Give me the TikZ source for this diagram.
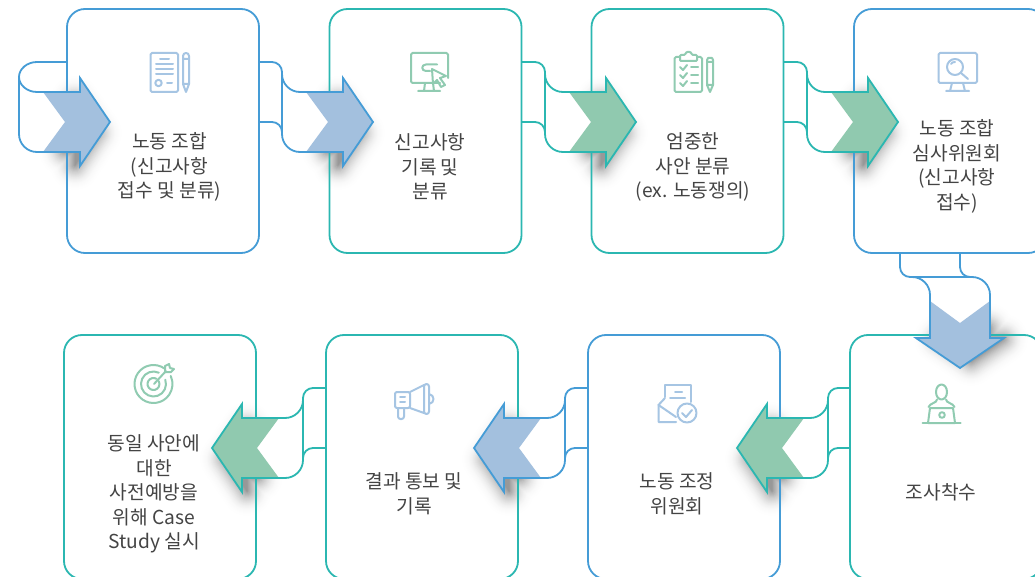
\documentclass[tikz,border=0pt]{standalone}
\usepackage{fontspec}
\setmainfont{Noto Sans CJK KR}
\usetikzlibrary{calc}
\definecolor{lblue}{HTML}{459CD6}
\definecolor{lteal}{HTML}{2BB7B1}
\definecolor{fblue}{HTML}{A3C0DE}
\definecolor{fgreen}{HTML}{90C9AF}
\definecolor{iblue}{HTML}{A6C5E3}
\definecolor{igreen}{HTML}{90CBB1}
\definecolor{txt}{HTML}{444444}
\tikzset{
  boxn/.style={rectangle,rounded corners=18pt,minimum width=192pt,minimum height=244pt,line width=1.8pt,outer sep=0pt,inner sep=0pt},
  label text/.style={align=center,text=txt,font=\fontsize{19.2}{24.6}\selectfont,inner sep=0pt},
  icon/.style={line width=2pt,line cap=round,line join=round},
  flowline/.style={line width=1.8pt,line join=miter},
}
% shapes in local coordinates: tip at origin, arrow pointing to +x
\newcommand{\chevshape}{(-45,0) -- (-67,-30) -- (-30,-30) -- (-30,-44) -- (0,0) -- (-30,44) -- (-30,30) -- (-67,30) -- cycle}
% #1 transform, #2 offset
\newcommand{\flowshadow}[2]{%
\begin{scope}[#1,shift={(#2)}]
  \foreach \i in {0,...,24}{%
    \pgfmathsetmacro{\wdt}{2*(24-\i)+0.5}
    \pgfmathsetmacro{\pc}{40*(\i/24)*(\i/24)+0.4}
    \draw[draw=black!\pc,fill=black!\pc,line width=\wdt pt,line join=round]
      (-43,-16) -- (-32,-16) -- (-32,-32) -- (-10,0) -- (-32,32) -- (-32,18) -- (-43,18) -- cycle;}
\end{scope}}
% #1 transform, #2 first start, #3 second start, #4 line, #5 fill
\newcommand{\flow}[5]{%
\begin{scope}[#1]
  \coordinate (s1) at (-114,-60);
  \coordinate (s2) at (-114,0);
  \fill[white] (-73,-30) -- (-30,-30) -- (-30,30) -- (-73,30) .. controls (-83,30) and (-91,22) .. (-91,12) -- (-91,-48) .. controls (-91,-38) and (-83,-30) .. (-73,-30) -- cycle;
  \fill[white] (-111.5,-60) -- (-101,-60) .. controls (-95.5,-60) and (-91,-55.5) .. (-91,-50) -- (-91,10) .. controls (-91,4.5) and (-95.5,0) .. (-101,0) -- (-111.5,0) -- cycle;
  \fill[#5] \chevshape;
  \draw[#4,flowline]
    (#2) -- (-101,-60) .. controls (-95.5,-60) and (-91,-55.5) .. (-91,-50) -- (-91,-48)
    .. controls (-91,-38) and (-83,-30) .. (-73,-30) -- (-30,-30) -- (-30,-44) -- (0,0) -- (-30,44) -- (-30,30) -- (-73,30)
    .. controls (-83,30) and (-91,22) .. (-91,12) -- (-91,10)
    .. controls (-91,4.5) and (-95.5,0) .. (-101,0) -- (#3);
  \draw[#4,flowline] (-91,-50) -- (-91,12);
\end{scope}}
\begin{document}
\begin{tikzpicture}[x=1pt,y=-1pt]
\path[use as bounding box,clip] (0,0) rectangle (1035,577);
\fill[white] (0,0) rectangle (1035,577);
% shadows
\flowshadow{shift={(110,122)}}{-3,11}
\flowshadow{shift={(373,122)}}{-3,11}
\flowshadow{shift={(636,122)}}{-3,11}
\flowshadow{shift={(898,122)}}{-3,11}
\flowshadow{shift={(960,368)},cm={0,-1,-1,0,(0,0)}}{3,11}
\flowshadow{shift={(737,448)},xscale=-1}{-3,11}
\flowshadow{shift={(474,448)},xscale=-1}{-3,11}
\flowshadow{shift={(212,448)},xscale=-1}{-3,11}
% boxes
\node[boxn,draw=lblue] (b1) at (163,131) {};
\node[boxn,draw=lteal] (b2) at (425.5,131) {};
\node[boxn,draw=lteal] (b3) at (687.5,131) {};
\node[boxn,draw=lblue] (b4) at (950,131) {};
\node[boxn,draw=lteal] (b5) at (946,457) {};
\node[boxn,draw=lblue] (b6) at (684,457) {};
\node[boxn,draw=lteal] (b7) at (422,457) {};
\node[boxn,draw=lteal] (b8) at (160,457) {};
% entry arrow
\begin{scope}[shift={(110,122)}]
  \coordinate (e1) at (-43,-60);
  \fill[white] (-73,-30) -- (-30,-30) -- (-30,30) -- (-73,30) .. controls (-83,30) and (-91,22) .. (-91,12) -- (-91,-45) .. controls (-91,-37) and (-83,-30) .. (-73,-30) -- cycle;
  \fill[fblue] \chevshape;
  \draw[lblue,flowline]
    (b1.west |- e1) -- (-73,-60) .. controls (-83,-60) and (-91,-53) .. (-91,-45)
    .. controls (-91,-37) and (-83,-30) .. (-73,-30) -- (-30,-30) -- (-30,-44) -- (0,0) -- (-30,44) -- (-30,30) -- (-73,30)
    .. controls (-83,30) and (-91,22) .. (-91,12) -- (-91,-45);
\end{scope}
% flows
\flow{shift={(373,122)}}{b1.east |- s1}{b1.east |- s2}{lblue}{fblue}
\flow{shift={(636,122)}}{b2.east |- s1}{b2.east |- s2}{lteal}{fgreen}
\flow{shift={(898,122)}}{b3.east |- s1}{b3.east |- s2}{lteal}{fgreen}
\flow{shift={(960,368)},cm={0,-1,-1,0,(0,0)}}{b4.south |- s1}{b4.south |- s2}{lblue}{fblue}
\flow{shift={(737,448)},xscale=-1}{b5.west |- s1}{b5.west |- s2}{lteal}{fgreen}
\flow{shift={(474,448)},xscale=-1}{b6.west |- s1}{b6.west |- s2}{lblue}{fblue}
\flow{shift={(212,448)},xscale=-1}{b7.west |- s1}{b7.west |- s2}{lteal}{fgreen}
% texts
\node[label text] (t1) at (169.5,167) {노동 조합\\(신고사항\\접수 및 분류)};
\node[label text] (t2) at (430,167) {신고사항\\기록 및\\분류};
\node[label text] (t3) at (693,167) {엄중한\\사안 분류\\(ex. 노동쟁의)};
\node[label text] (t4) at (957,166.5) {노동 조합\\심사위원회\\(신고사항\\접수)};
\node[label text] (t5) at (941,492) {조사착수};
\node[label text] (t6) at (677,494) {노동 조정\\위원회};
\node[label text] (t7) at (414,494) {결과 통보 및\\기록};
\node[label text] (t8) at (154,494) {동일 사안에\\대한\\사전예방을\\위해 Case\\Study 실시};
% icon 1: document and pen
\begin{scope}[icon,draw=iblue]
  \draw[rounded corners=1.5pt] (150.5,53) rectangle (178,92);
  \draw (160,59) -- (169,59) (156,64) -- (173,64) (156,69) -- (173,69) (156,74) -- (173,74) (167,83) -- (172,83);
  \draw (158.5,83) circle (3.2);
  \draw (183,56) -- (183,84) -- (186,92) -- (189,84) -- (189,56) .. controls (189,52) and (183,52) .. (183,56) -- cycle (183,59) -- (189,59) (183,84) -- (189,84);
\end{scope}
% icon 2: monitor with cursor
\begin{scope}[icon,draw=igreen]
  \draw[rounded corners=1.5pt] (440,83) -- (411,83) -- (411,53) -- (448,53) -- (448,78);
  \draw (425,83) -- (424,91) (433,83) -- (434,91) (418,91) -- (440,91);
  \draw (437,64.5) -- (426,64.5) .. controls (421,64.5) and (421,71) .. (426,71) -- (430,71);
  \draw (432,69) -- (446,76) -- (440,78) -- (445,85) -- (441,87) -- (437,80) -- (433,84) -- cycle;
\end{scope}
% icon 3: clipboard and pen
\begin{scope}[icon,draw=igreen]
  \draw[rounded corners=1.5pt] (680,57) -- (674.5,57) -- (674.5,92) -- (702,92) -- (702,57) -- (697,57);
  \draw[rounded corners=1pt] (680,61) -- (680,55) -- (685,55) .. controls (686,51) and (691,51) .. (692,55) -- (697,55) -- (697,61) -- cycle;
  \draw (680,67) -- (683,70) -- (687,65) (680,75) -- (683,78) -- (687,73) (680,83) -- (683,86) -- (687,81);
  \draw (691,67) -- (698,67) (691,75) -- (698,75) (691,83) -- (698,83);
  \draw (707,60) -- (707,85) -- (710,92) -- (713,85) -- (713,60) -- (712,58) -- (708,58) -- cycle (707,62) -- (713,62) (707,85) -- (713,85);
\end{scope}
% icon 4: monitor with magnifier
\begin{scope}[icon,draw=iblue]
  \draw[rounded corners=1.5pt] (938.5,53) rectangle (977,83);
  \draw (952,83) -- (950,91) (963,83) -- (965,91) (946,91) -- (969,91);
  \draw (955,67) circle (8);
  \draw (961,73) -- (968,79);
  \draw (951,64) .. controls (952,62.5) and (953,62) .. (955,62);
\end{scope}
% icon 5: person at laptop
\begin{scope}[icon,draw=igreen]
  \draw (941.5,392) ellipse (5.5 and 7.5);
  \draw (937,399.5) .. controls (937,403) and (930,403) .. (928.5,407) (946,399.5) .. controls (946,403) and (953,403) .. (954.5,407);
  \draw (930,408) -- (953,408) -- (955,423) -- (928,423) -- cycle;
  \draw (942,415) circle (2.8);
  \draw (922.5,423) -- (960.5,423);
\end{scope}
% icon 6: envelope with check
\begin{scope}[icon,draw=iblue]
  \draw (665,397) -- (665,385) -- (691,385) -- (691,402);
  \draw (675,392) -- (682,392) (670,398) -- (685,398);
  \draw (665,398) -- (658.5,405) -- (658.5,422) -- (676,422);
  \draw (658.5,405) -- (676,417);
  \draw (687,413) circle (9.5);
  \draw (682,413) -- (686,417) -- (692,410);
\end{scope}
% icon 7: megaphone
\begin{scope}[icon,draw=iblue]
  \draw[rounded corners=2pt] (410,392) -- (395,392) -- (395,408) -- (410,408) -- cycle;
  \draw (410,392) -- (424,385) (410,408) -- (424,413);
  \draw[rounded corners=2.5pt] (424,384) rectangle (429,414);
  \draw (429,394) .. controls (435,395) and (435,403) .. (429,404);
  \draw[rounded corners=2.5pt] (398,408) -- (398,419) -- (404,419) -- (404,408);
  \draw (400,397) -- (405,397) (400,402) -- (405,402);
\end{scope}
% icon 8: target
\begin{scope}[icon,draw=igreen]
  \draw ([shift={(55:19pt)}]153.5,384) arc[start angle=55,end angle=385,radius=19pt];
  \draw ([shift={(65:12.5pt)}]153.5,384) arc[start angle=65,end angle=380,radius=12.5pt];
  \draw ([shift={(60:6pt)}]153.5,384) arc[start angle=60,end angle=390,radius=6pt];
  \draw (154,384) -- (166,371);
  \draw (165,366) -- (165,372) -- (171,372) -- (174,369) -- (170,368) -- (169,364) -- cycle;
\end{scope}
\end{tikzpicture}
\end{document}
